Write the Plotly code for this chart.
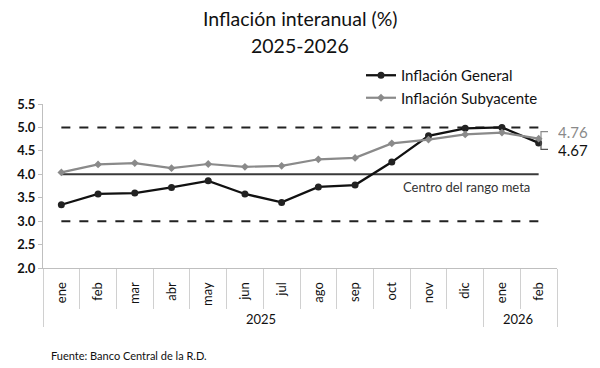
import plotly.graph_objects as go

months = ["ene", "feb", "mar", "abr", "may", "jun", "jul", "ago", "sep", "oct", "nov", "dic", "ene", "feb"]
years = ["2025"] * 12 + ["2026"] * 2
general = [3.35, 3.58, 3.60, 3.72, 3.86, 3.58, 3.40, 3.73, 3.77, 4.26, 4.82, 4.98, 5.00, 4.67]
subyacente = [4.04, 4.21, 4.24, 4.13, 4.22, 4.16, 4.18, 4.32, 4.35, 4.66, 4.74, 4.85, 4.89, 4.76]
meta_sup = 5.0
meta_centro = 4.0
meta_inf = 3.0
y_ticks = [2.0, 2.5, 3.0, 3.5, 4.0, 4.5, 5.0, 5.5]

FONT = "Lato"
x = [years, months]

W, H = 600, 368
ML, MR, MT, MB = 43, 43, 104, 100
PH = H - MT - MB


def py(pix):
    """paper y from pixel row"""
    return (H - MB - pix) / PH


def px(pix):
    return (pix - ML) / (W - ML - MR)


fig = go.Figure()
fig.add_trace(go.Scatter(x=x, y=[meta_sup] * len(months), mode="lines",
                         line=dict(color="#222222", width=2, dash="dash"), showlegend=False, hoverinfo="skip"))
fig.add_trace(go.Scatter(x=x, y=[meta_inf] * len(months), mode="lines",
                         line=dict(color="#222222", width=2, dash="dash"), showlegend=False, hoverinfo="skip"))
fig.add_trace(go.Scatter(x=x, y=[meta_centro] * len(months), mode="lines",
                         line=dict(color="#3a3a3a", width=2), showlegend=False, hoverinfo="skip"))
fig.add_trace(go.Scatter(x=x, y=general, mode="lines+markers", name="Inflación General",
                         line=dict(color="#111111", width=2.3),
                         marker=dict(symbol="circle", size=7, color="#222222")))
fig.add_trace(go.Scatter(x=x, y=subyacente, mode="lines+markers", name="Inflación Subyacente",
                         line=dict(color="#8a8a8a", width=2.2),
                         marker=dict(symbol="diamond", size=6, color="#8a8a8a")))

# data-label callouts
ytop = subyacente[-1] + 0.15
ybot = general[-1] - 0.14
ymid = (subyacente[-1] + general[-1]) / 2
fig.add_annotation(x=1.0, xref="paper", xanchor="left", xshift=-1, y=ytop, yref="y",
                   text=f"{subyacente[-1]:.2f}", showarrow=False, height=17,
                   font=dict(family=FONT, size=15, color="#8a8a8a"))
fig.add_annotation(x=1.0, xref="paper", xanchor="left", xshift=-1, y=ybot, yref="y",
                   text=f"{general[-1]:.2f}", showarrow=False, height=17,
                   font=dict(family=FONT, size=15, color="#111111"))
xb0, xb1 = px(541), px(548)
fig.add_shape(type="path", xref="paper", yref="y",
              path=f"M {xb1} {ytop} L {xb0} {ytop} L {xb0} {ymid}",
              line=dict(color="#8a8a8a", width=1.2))
fig.add_shape(type="path", xref="paper", yref="y",
              path=f"M {xb0} {ymid} L {xb0} {ybot} L {xb1} {ybot}",
              line=dict(color="#555555", width=1.2))

fig.add_annotation(x=px(532), xref="paper", xanchor="right", y=meta_centro - 0.28, yref="y",
                   text="Centro del rango meta", showarrow=False,
                   font=dict(family=FONT, size=13, color="#333333"))

# title lines
fig.add_annotation(x=0.5, xref="paper", y=py(18), yref="paper", yanchor="middle",
                   text="Inflación interanual (%)", showarrow=False,
                   font=dict(family=FONT, size=19.5, color="#111111"))
fig.add_annotation(x=0.5, xref="paper", y=py(46), yref="paper", yanchor="middle",
                   text="2025-2026", showarrow=False,
                   font=dict(family=FONT, size=19.5, color="#111111"))

fig.add_annotation(x=px(49), xref="paper", xanchor="left", y=py(355), yref="paper",
                   yanchor="middle", text="Fuente: Banco Central de la R.D.", showarrow=False,
                   font=dict(family=FONT, size=11, color="#111111"))

fig.update_layout(
    width=W, height=H,
    margin=dict(l=ML, r=MR, t=MT, b=MB, pad=0, autoexpand=False),
    paper_bgcolor="white", plot_bgcolor="white",
    font=dict(family=FONT, color="#111111"),
    legend=dict(x=px(361), xanchor="left", y=py(59), yanchor="top",
                bgcolor="rgba(0,0,0,0)", font=dict(family=FONT, size=15, color="#111111"),
                itemwidth=30, tracegroupgap=0),
    showlegend=True,
)

fig.update_yaxes(range=[2.0, 5.5], tickvals=y_ticks, ticktext=[f"{v:.1f}" for v in y_ticks],
                 showgrid=False, zeroline=False, showline=True, linecolor="#bfbfbf", linewidth=1,
                 ticks="outside", ticklen=4, tickcolor="#bfbfbf", automargin=False,
                 tickfont=dict(family=FONT, size=13, color="#111111", weight="bold"))
fig.update_xaxes(type="multicategory", range=[-0.5, len(months) - 0.5],
                 showgrid=False, showline=True, linecolor="#bfbfbf", linewidth=1,
                 ticks="outside", ticklen=40, tickcolor="#d0d0d0", tickangle=-90, automargin=False,
                 ticklabelstandoff=8,
                 dividercolor="#d0d0d0", dividerwidth=1,
                 tickfont=dict(family=FONT, size=13, color="#111111"))

fig.write_html("out.html", post_script="document.body.style.margin='0';",
               config={"displayModeBar": False})
